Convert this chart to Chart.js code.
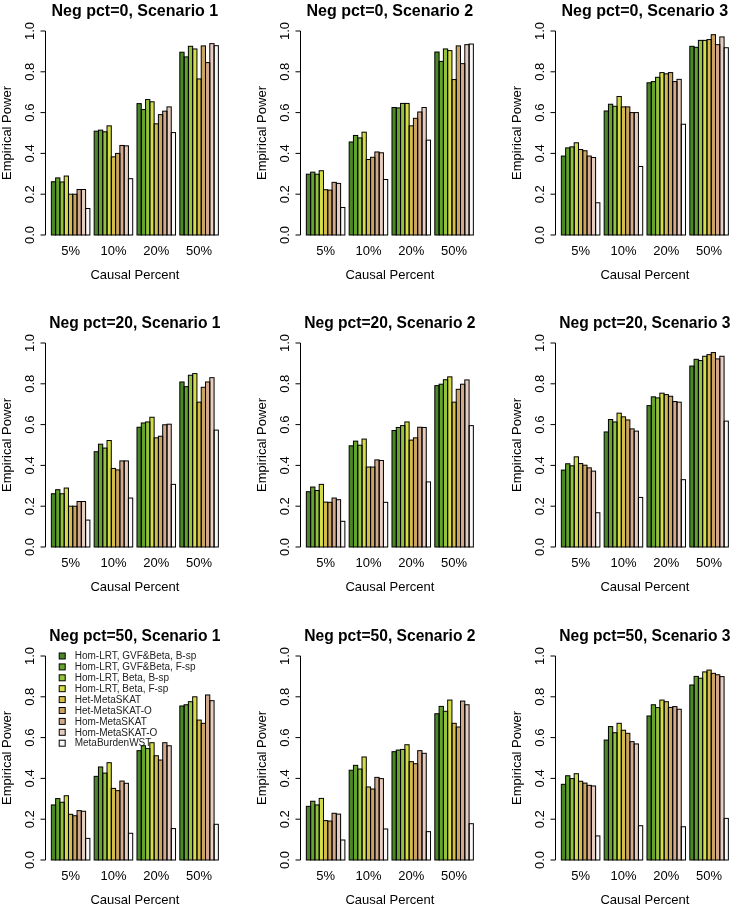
<!DOCTYPE html>
<html>
<head>
<meta charset="utf-8">
<script src="https://cdn.jsdelivr.net/npm/chart.js@4"></script>
<style>
  body { margin: 0; background: #fff; }
  #page { position: relative; width: 735px; height: 905px; overflow: hidden; background: #fff; }
  #page canvas { position: absolute; }
</style>
</head>
<body>
<div id="page"></div>
<script>
// categories and methods
const categories = ["5%", "10%", "20%", "50%"];
const methods = [
    "Hom-LRT, GVF&Beta, B-sp",
    "Hom-LRT, GVF&Beta, F-sp",
    "Hom-LRT, Beta, B-sp",
    "Hom-LRT, Beta, F-sp",
    "Het-MetaSKAT",
    "Het-MetaSKAT-O",
    "Hom-MetaSKAT",
    "Hom-MetaSKAT-O",
    "MetaBurdenWST"
];
const barColors = ["#4a8726", "#64a32c", "#93c23e", "#d4dd48", "#d3bb4c", "#cba462", "#d2aa8b", "#e6cdbf", "#f8f8f8"];
const yTicks = [0, 0.2, 0.4, 0.6, 0.8, 1.0];

// empirical power, one row per causal percent, one value per method
const neg0_s1 = [
    [0.261, 0.280, 0.260, 0.289, 0.200, 0.200, 0.223, 0.223, 0.130],
    [0.509, 0.514, 0.506, 0.535, 0.383, 0.400, 0.439, 0.437, 0.276],
    [0.644, 0.615, 0.664, 0.653, 0.545, 0.590, 0.607, 0.628, 0.502],
    [0.896, 0.873, 0.925, 0.912, 0.765, 0.927, 0.845, 0.938, 0.928]
];
const neg0_s2 = [
    [0.298, 0.308, 0.298, 0.315, 0.222, 0.220, 0.258, 0.253, 0.135],
    [0.456, 0.488, 0.476, 0.504, 0.370, 0.381, 0.407, 0.403, 0.272],
    [0.625, 0.623, 0.645, 0.645, 0.535, 0.572, 0.603, 0.625, 0.465],
    [0.897, 0.851, 0.912, 0.904, 0.762, 0.927, 0.840, 0.933, 0.936]
];
const neg0_s3 = [
    [0.387, 0.427, 0.432, 0.452, 0.419, 0.413, 0.387, 0.380, 0.158],
    [0.608, 0.641, 0.631, 0.679, 0.628, 0.628, 0.600, 0.600, 0.336],
    [0.746, 0.752, 0.773, 0.796, 0.790, 0.796, 0.752, 0.763, 0.543],
    [0.925, 0.920, 0.954, 0.954, 0.958, 0.982, 0.933, 0.971, 0.918]
];
const neg20_s1 = [
    [0.261, 0.281, 0.261, 0.289, 0.200, 0.200, 0.223, 0.223, 0.132],
    [0.467, 0.504, 0.485, 0.522, 0.385, 0.378, 0.422, 0.422, 0.240],
    [0.587, 0.608, 0.613, 0.636, 0.535, 0.543, 0.599, 0.602, 0.307],
    [0.809, 0.786, 0.842, 0.850, 0.710, 0.783, 0.809, 0.830, 0.573]
];
const neg20_s2 = [
    [0.271, 0.294, 0.277, 0.307, 0.220, 0.219, 0.240, 0.232, 0.126],
    [0.496, 0.519, 0.499, 0.529, 0.392, 0.392, 0.427, 0.424, 0.219],
    [0.571, 0.586, 0.595, 0.613, 0.524, 0.535, 0.587, 0.586, 0.319],
    [0.791, 0.798, 0.820, 0.834, 0.710, 0.773, 0.798, 0.819, 0.595]
];
const neg20_s3 = [
    [0.377, 0.408, 0.398, 0.442, 0.409, 0.401, 0.388, 0.372, 0.168],
    [0.564, 0.625, 0.613, 0.656, 0.638, 0.623, 0.579, 0.568, 0.243],
    [0.693, 0.736, 0.731, 0.754, 0.747, 0.739, 0.713, 0.710, 0.330],
    [0.887, 0.920, 0.914, 0.935, 0.943, 0.953, 0.922, 0.935, 0.617]
];
const neg50_s1 = [
    [0.270, 0.301, 0.283, 0.315, 0.224, 0.217, 0.242, 0.239, 0.106],
    [0.410, 0.456, 0.426, 0.477, 0.351, 0.340, 0.387, 0.376, 0.131],
    [0.536, 0.560, 0.546, 0.575, 0.511, 0.490, 0.575, 0.560, 0.154],
    [0.755, 0.761, 0.776, 0.800, 0.686, 0.670, 0.809, 0.781, 0.175]
];
const neg50_s2 = [
    [0.263, 0.288, 0.270, 0.302, 0.193, 0.191, 0.229, 0.225, 0.098],
    [0.440, 0.464, 0.446, 0.505, 0.358, 0.348, 0.405, 0.399, 0.152],
    [0.531, 0.539, 0.542, 0.565, 0.482, 0.472, 0.536, 0.523, 0.139],
    [0.717, 0.753, 0.729, 0.784, 0.670, 0.652, 0.779, 0.761, 0.178]
];
const neg50_s3 = [
    [0.371, 0.413, 0.399, 0.423, 0.386, 0.377, 0.366, 0.363, 0.118],
    [0.588, 0.654, 0.624, 0.670, 0.636, 0.621, 0.580, 0.569, 0.168],
    [0.706, 0.761, 0.747, 0.784, 0.776, 0.748, 0.752, 0.739, 0.163],
    [0.858, 0.900, 0.891, 0.922, 0.931, 0.915, 0.908, 0.899, 0.204]
];

const panels = [
    { title: "Neg pct=0, Scenario 1", values: neg0_s1 },
    { title: "Neg pct=0, Scenario 2", values: neg0_s2 },
    { title: "Neg pct=0, Scenario 3", values: neg0_s3 },
    { title: "Neg pct=20, Scenario 1", values: neg20_s1 },
    { title: "Neg pct=20, Scenario 2", values: neg20_s2 },
    { title: "Neg pct=20, Scenario 3", values: neg20_s3 },
    { title: "Neg pct=50, Scenario 1", values: neg50_s1, legend: true },
    { title: "Neg pct=50, Scenario 2", values: neg50_s2 },
    { title: "Neg pct=50, Scenario 3", values: neg50_s3 }
];

const colLeft = [0, 255, 510];
const rowTop = [0, 312, 625];

Chart.defaults.font.family = '"Liberation Sans", Arial, sans-serif';
Chart.defaults.color = "#000";

// outline every bar with one shared 1px line, like base R barplot
const barOutline = {
    id: "barOutline",
    afterDatasetsDraw(chart) {
        const ctx = chart.ctx;
        ctx.save();
        ctx.strokeStyle = "#000";
        ctx.lineWidth = 1;
        chart.data.datasets.forEach((ds, i) => {
            chart.getDatasetMeta(i).data.forEach(bar => {
                const { x, y, base, width } = bar.getProps(["x", "y", "base", "width"], true);
                ctx.strokeRect(x - width / 2, y, width, base - y);
            });
        });
        ctx.restore();
    }
};

// R style y axis: line only from first to last tick, rotated labels
const rAxis = {
    id: "rAxis",
    afterDraw(chart) {
        const ctx = chart.ctx;
        const y = chart.scales.y;
        const x0 = Math.round(chart.chartArea.left - 4.2) + 0.5;
        ctx.save();
        ctx.strokeStyle = "#000";
        ctx.lineWidth = 1;
        ctx.beginPath();
        ctx.moveTo(x0, y.getPixelForValue(yTicks[0]));
        ctx.lineTo(x0, y.getPixelForValue(yTicks[yTicks.length - 1]));
        yTicks.forEach(v => {
            const py = y.getPixelForValue(v);
            ctx.moveTo(x0, py);
            ctx.lineTo(x0 - 5, py);
        });
        ctx.stroke();
        ctx.fillStyle = "#000";
        ctx.font = '13px "Liberation Sans", Arial, sans-serif';
        ctx.textAlign = "center";
        ctx.textBaseline = "middle";
        yTicks.forEach(v => {
            ctx.save();
            ctx.translate(x0 - 15, y.getPixelForValue(v));
            ctx.rotate(-Math.PI / 2);
            ctx.fillText(v.toFixed(1), 0, 0);
            ctx.restore();
        });
        ctx.restore();
    }
};

// legend drawn inside the plot, top left
const methodLegend = {
    id: "methodLegend",
    afterDatasetsDraw(chart, args, opts) {
        if (!opts.show) return;
        const ctx = chart.ctx;
        const left = chart.chartArea.left;
        const top = chart.scales.y.getPixelForValue(1);
        ctx.save();
        ctx.font = '10px "Liberation Sans", Arial, sans-serif';
        ctx.textAlign = "left";
        ctx.textBaseline = "middle";
        ctx.lineWidth = 1;
        chart.data.datasets.forEach((ds, i) => {
            const cy = top + i * 10.9;
            ctx.fillStyle = ds.backgroundColor;
            ctx.fillRect(left + 10, cy - 3, 6, 6);
            ctx.strokeStyle = "#000";
            ctx.strokeRect(left + 10, cy - 3, 6, 6);
            ctx.fillStyle = "#222";
            ctx.fillText(ds.label, left + 25.5, cy + 0.5);
        });
        ctx.restore();
    }
};

const page = document.getElementById("page");

panels.forEach((p, k) => {
    const canvas = document.createElement("canvas");
    canvas.width = 270;
    canvas.height = 290;
    canvas.style.left = colLeft[k % 3] + "px";
    canvas.style.top = rowTop[Math.floor(k / 3)] + "px";
    page.appendChild(canvas);

    const datasets = methods.map((m, i) => ({
        label: m,
        data: p.values.map(group => group[i]),
        backgroundColor: barColors[i],
        borderWidth: 0
    }));

    new Chart(canvas, {
        type: "bar",
        data: { labels: categories, datasets: datasets },
        options: {
            responsive: false,
            animation: false,
            layout: { padding: { right: 49.5 } },
            datasets: { bar: { categoryPercentage: 0.9, barPercentage: 1 } },
            scales: {
                x: {
                    grid: { display: false, drawTicks: false },
                    border: { display: false },
                    ticks: { padding: 9, font: { size: 13 } },
                    title: {
                        display: true,
                        text: "Causal Percent",
                        font: { size: 13, lineHeight: 1 },
                        padding: { top: 0, bottom: 8.5 }
                    },
                    afterFit: s => { s.height = 55; }
                },
                y: {
                    min: 0,
                    max: 1,
                    grid: { display: false, drawTicks: false },
                    border: { display: false },
                    ticks: { display: false },
                    title: {
                        display: true,
                        text: "Empirical Power",
                        font: { size: 13, lineHeight: 1 },
                        padding: { top: 0.5, bottom: 0 }
                    },
                    afterFit: s => { s.width = 49.2; }
                }
            },
            plugins: {
                legend: { display: false },
                tooltip: { enabled: false },
                title: {
                    display: true,
                    text: p.title,
                    fullSize: false,
                    font: { size: 16, weight: "bold", lineHeight: 1.2 },
                    padding: { top: 2.4, bottom: 9.4 }
                },
                methodLegend: { show: !!p.legend }
            }
        },
        plugins: [barOutline, rAxis, methodLegend]
    });
});
</script>
</body>
</html>
